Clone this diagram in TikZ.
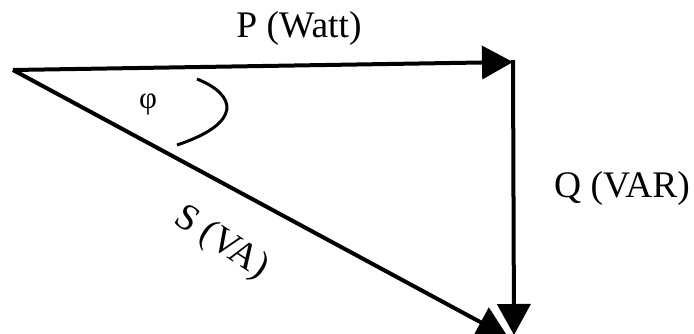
\documentclass[tikz,border=0pt]{standalone}
\usepackage{fontspec}
\setmainfont{Liberation Serif}
\usetikzlibrary{arrows.meta}
\begin{document}
\begin{tikzpicture}[x=1pt,y=1pt,
  vec/.style={line width=4pt,-{Triangle[length=31pt,width=33pt]}},
  lbl/.style={font=\fontsize{37.5}{40}\selectfont,inner sep=0pt}]
\useasboundingbox (0,0) rectangle (694,333);
\coordinate (O) at (13,263);
\coordinate (A) at (513,271);
\coordinate (Bq) at (514,-2);
\coordinate (Bs) at (508,-4);
\draw[vec] (O) -- (A);
\draw[line width=4pt] (513,273) -- (513,262);
\draw[vec] (513,272) -- (Bq);
\draw[vec] (O) -- (Bs);
\draw[line width=3pt] (197,254) .. controls (237,238) and (243,210) .. (177,188);
\node[lbl,anchor=base] (P) at (299,296) {P (Watt)};
\node[lbl,anchor=base] (Q) at (622,136) {Q (VAR)};
\node[lbl,rotate=-33] (S) at (221,90) {S (VA)};
\node[font=\fontsize{31}{34}\selectfont,inner sep=0pt] (phi) at (148,229) {φ};
\end{tikzpicture}
\end{document}
